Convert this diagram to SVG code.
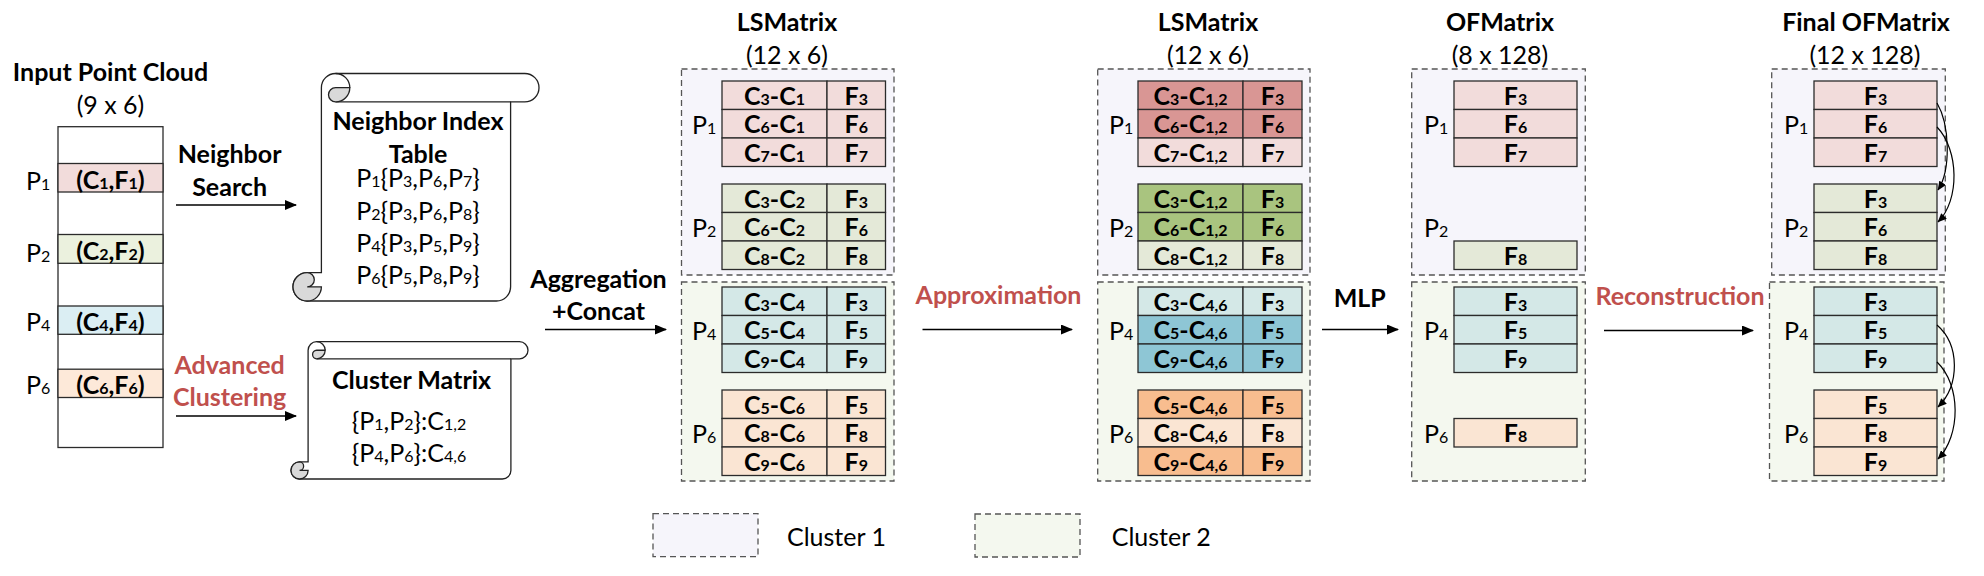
<svg xmlns="http://www.w3.org/2000/svg" width="1984" height="576" viewBox="0 0 1984 576">
<defs>
<marker id="ah" markerWidth="12" markerHeight="10" refX="11" refY="5" orient="auto" markerUnits="userSpaceOnUse"><path d="M0,0 L12,5 L0,10 Z" fill="#000"/></marker>
<marker id="ahs" markerWidth="9" markerHeight="8" refX="8.5" refY="4" orient="auto" markerUnits="userSpaceOnUse"><path d="M0,0 L9,4 L0,8 Z" fill="#000"/></marker>
</defs>
<style>
text{font-family:Lato,'Open Sans','DejaVu Sans',sans-serif;font-size:25px;fill:#000}
.b{font-weight:700}
.m{text-anchor:middle}
.s{font-size:16px}
.red{fill:#C0504D}
.cell{stroke:#2b2b2b;stroke-width:1.3}
.dash{stroke:#555;stroke-width:1.3;stroke-dasharray:6 4}
.c1{fill:#F6F5FB}
.c2{fill:#F4F8EF}
.pk{fill:#F2DCDB}
.pkd{fill:#D99694}
.sg{fill:#E4E9D8}
.gd{fill:#A9C47F}
.tl{fill:#D4E8E7}
.td{fill:#8EC6D5}
.pc{fill:#FAE5D3}
.od{fill:#F8BD8F}
.scroll{fill:#fff;stroke:#222;stroke-width:1.3}
.curl{fill:#D9D9D9;stroke:#222;stroke-width:1.3}
.ln{fill:none;stroke:#222;stroke-width:1.3}
.arr{stroke:#000;stroke-width:1.6;fill:none}
.arc{stroke:#000;stroke-width:1.2;fill:none}
</style>

<!-- Input point cloud -->
<g id="input-cloud">
<text class="b m" x="110.5" y="81">Input Point Cloud</text>
<text class="m" x="110.5" y="114">(9 x 6)</text>
<rect x="58" y="126.7" width="105" height="320.8" fill="#fff" class="cell"/>
<rect x="58" y="163.5" width="105" height="28.5" fill="#F2DCDB" class="cell"/>
<rect x="58" y="234.5" width="105" height="28.8" fill="#EBF1DE" class="cell"/>
<rect x="58" y="306" width="105" height="28.3" fill="#DBEEF3" class="cell"/>
<rect x="58" y="369.2" width="105" height="28.3" fill="#FDE9D9" class="cell"/>
<text class="b m" x="110.5" y="188.5">(C<tspan class="s">1</tspan>,F<tspan class="s">1</tspan>)</text>
<text class="b m" x="110.5" y="259.8">(C<tspan class="s">2</tspan>,F<tspan class="s">2</tspan>)</text>
<text class="b m" x="110.5" y="330.8">(C<tspan class="s">4</tspan>,F<tspan class="s">4</tspan>)</text>
<text class="b m" x="110.5" y="394">(C<tspan class="s">6</tspan>,F<tspan class="s">6</tspan>)</text>
<text x="26" y="190.3">P<tspan class="s">1</tspan></text>
<text x="26" y="261.6">P<tspan class="s">2</tspan></text>
<text x="26" y="331.4">P<tspan class="s">4</tspan></text>
<text x="26" y="393.8">P<tspan class="s">6</tspan></text>
</g>

<!-- Neighbor index table scroll -->
<g id="neighbor-table">
<path class="scroll" d="M321.4,272.6 L321.4,87.7 A14.2,14.2 0 0 1 335.6,73.5 L524.8,73.5 A14.2,14.2 0 0 1 524.8,101.9 L510.6,101.9 L510.6,286.8 A14.2,14.2 0 0 1 496.4,301 L307.2,301 A14.2,14.2 0 0 1 307.2,272.6 Z"/>
<path class="ln" d="M335.6,101.9 L510.6,101.9"/>
<path class="curl" d="M349.8,87.7 A14.2,14.2 0 0 1 335.6,101.9 A7.1,7.1 0 0 1 335.6,87.7 Z"/>
<path class="ln" d="M335.6,73.5 A14.2,14.2 0 0 1 349.8,87.7"/>
<path class="curl" d="M307.2,272.6 A7.1,7.1 0 0 1 307.2,286.8 L321.4,286.8 A14.2,14.2 0 0 1 307.2,301 A14.2,14.2 0 0 1 307.2,272.6 Z"/>
<text class="b m" x="418" y="130.4">Neighbor Index</text>
<text class="b m" x="418" y="162.7">Table</text>
<text class="m" x="418" y="187.4">P<tspan class="s">1</tspan>{P<tspan class="s">3</tspan>,P<tspan class="s">6</tspan>,P<tspan class="s">7</tspan>}</text>
<text class="m" x="418" y="219.7">P<tspan class="s">2</tspan>{P<tspan class="s">3</tspan>,P<tspan class="s">6</tspan>,P<tspan class="s">8</tspan>}</text>
<text class="m" x="418" y="251.7">P<tspan class="s">4</tspan>{P<tspan class="s">3</tspan>,P<tspan class="s">5</tspan>,P<tspan class="s">9</tspan>}</text>
<text class="m" x="418" y="283.6">P<tspan class="s">6</tspan>{P<tspan class="s">5</tspan>,P<tspan class="s">8</tspan>,P<tspan class="s">9</tspan>}</text>
</g>

<!-- Cluster matrix scroll -->
<g id="cluster-matrix">
<path class="scroll" d="M308.1,461.9 L308.1,350.25 A8.55,8.55 0 0 1 316.65,341.7 L519.45,341.7 A8.55,8.55 0 0 1 519.45,358.8 L510.9,358.8 L510.9,470.45 A8.55,8.55 0 0 1 502.35,479 L299.55,479 A8.55,8.55 0 0 1 299.55,461.9 Z"/>
<path class="ln" d="M316.65,358.8 L510.9,358.8"/>
<path class="curl" d="M325.2,350.25 A8.55,8.55 0 0 1 316.65,358.8 A4.28,4.28 0 0 1 316.65,350.25 Z"/>
<path class="ln" d="M316.65,341.7 A8.55,8.55 0 0 1 325.2,350.25"/>
<path class="curl" d="M299.55,461.9 A4.28,4.28 0 0 1 299.55,470.45 L308.1,470.45 A8.55,8.55 0 0 1 299.55,479 A8.55,8.55 0 0 1 299.55,461.9 Z"/>
<text class="b m" x="411.6" y="388.7">Cluster Matrix</text>
<text class="m" x="409" y="429.8">{P<tspan class="s">1</tspan>,P<tspan class="s">2</tspan>}:C<tspan class="s">1,2</tspan></text>
<text class="m" x="409" y="462">{P<tspan class="s">4</tspan>,P<tspan class="s">6</tspan>}:C<tspan class="s">4,6</tspan></text>
</g>

<!-- LSMatrix 1 -->
<g id="lsmatrix1">
<text class="b m" x="787" y="31">LSMatrix</text>
<text class="m" x="787" y="64">(12 x 6)</text>
<rect class="dash c1" x="681.5" y="69" width="212.5" height="206"/>
<rect class="dash c2" x="681.5" y="282" width="212.5" height="199"/>
<g class="cell">
<rect class="pk" x="722" y="81" width="105" height="28.5"/><rect class="pk" x="827" y="81" width="58.5" height="28.5"/>
<rect class="pk" x="722" y="109.5" width="105" height="28.5"/><rect class="pk" x="827" y="109.5" width="58.5" height="28.5"/>
<rect class="pk" x="722" y="138" width="105" height="28.5"/><rect class="pk" x="827" y="138" width="58.5" height="28.5"/>
<rect class="sg" x="722" y="184" width="105" height="28.5"/><rect class="sg" x="827" y="184" width="58.5" height="28.5"/>
<rect class="sg" x="722" y="212.5" width="105" height="28.5"/><rect class="sg" x="827" y="212.5" width="58.5" height="28.5"/>
<rect class="sg" x="722" y="241" width="105" height="28.5"/><rect class="sg" x="827" y="241" width="58.5" height="28.5"/>
<rect class="tl" x="722" y="287" width="105" height="28.5"/><rect class="tl" x="827" y="287" width="58.5" height="28.5"/>
<rect class="tl" x="722" y="315.5" width="105" height="28.5"/><rect class="tl" x="827" y="315.5" width="58.5" height="28.5"/>
<rect class="tl" x="722" y="344" width="105" height="28.5"/><rect class="tl" x="827" y="344" width="58.5" height="28.5"/>
<rect class="pc" x="722" y="390" width="105" height="28.5"/><rect class="pc" x="827" y="390" width="58.5" height="28.5"/>
<rect class="pc" x="722" y="418.5" width="105" height="28.5"/><rect class="pc" x="827" y="418.5" width="58.5" height="28.5"/>
<rect class="pc" x="722" y="447" width="105" height="28.5"/><rect class="pc" x="827" y="447" width="58.5" height="28.5"/>
</g>
<text x="692" y="134">P<tspan class="s">1</tspan></text>
<text x="692" y="237">P<tspan class="s">2</tspan></text>
<text x="692" y="340">P<tspan class="s">4</tspan></text>
<text x="692" y="443">P<tspan class="s">6</tspan></text>
<g class="b m">
<text x="774.5" y="104.5">C<tspan class="s">3</tspan>-C<tspan class="s">1</tspan></text><text x="856.2" y="104.5">F<tspan class="s">3</tspan></text>
<text x="774.5" y="133">C<tspan class="s">6</tspan>-C<tspan class="s">1</tspan></text><text x="856.2" y="133">F<tspan class="s">6</tspan></text>
<text x="774.5" y="161.5">C<tspan class="s">7</tspan>-C<tspan class="s">1</tspan></text><text x="856.2" y="161.5">F<tspan class="s">7</tspan></text>
<text x="774.5" y="207.5">C<tspan class="s">3</tspan>-C<tspan class="s">2</tspan></text><text x="856.2" y="207.5">F<tspan class="s">3</tspan></text>
<text x="774.5" y="236">C<tspan class="s">6</tspan>-C<tspan class="s">2</tspan></text><text x="856.2" y="236">F<tspan class="s">6</tspan></text>
<text x="774.5" y="264.5">C<tspan class="s">8</tspan>-C<tspan class="s">2</tspan></text><text x="856.2" y="264.5">F<tspan class="s">8</tspan></text>
<text x="774.5" y="310.5">C<tspan class="s">3</tspan>-C<tspan class="s">4</tspan></text><text x="856.2" y="310.5">F<tspan class="s">3</tspan></text>
<text x="774.5" y="339">C<tspan class="s">5</tspan>-C<tspan class="s">4</tspan></text><text x="856.2" y="339">F<tspan class="s">5</tspan></text>
<text x="774.5" y="367.5">C<tspan class="s">9</tspan>-C<tspan class="s">4</tspan></text><text x="856.2" y="367.5">F<tspan class="s">9</tspan></text>
<text x="774.5" y="413.5">C<tspan class="s">5</tspan>-C<tspan class="s">6</tspan></text><text x="856.2" y="413.5">F<tspan class="s">5</tspan></text>
<text x="774.5" y="442">C<tspan class="s">8</tspan>-C<tspan class="s">6</tspan></text><text x="856.2" y="442">F<tspan class="s">8</tspan></text>
<text x="774.5" y="470.5">C<tspan class="s">9</tspan>-C<tspan class="s">6</tspan></text><text x="856.2" y="470.5">F<tspan class="s">9</tspan></text>
</g>
</g>

<!-- LSMatrix 2 -->
<g id="lsmatrix2">
<text class="b m" x="1208" y="31">LSMatrix</text>
<text class="m" x="1208" y="64">(12 x 6)</text>
<rect class="dash c1" x="1097.7" y="69" width="212.3" height="206"/>
<rect class="dash c2" x="1097.7" y="282" width="212.3" height="199"/>
<g class="cell">
<rect class="pkd" x="1138" y="81" width="105" height="28.5"/><rect class="pkd" x="1243" y="81" width="59" height="28.5"/>
<rect class="pkd" x="1138" y="109.5" width="105" height="28.5"/><rect class="pkd" x="1243" y="109.5" width="59" height="28.5"/>
<rect class="pk" x="1138" y="138" width="105" height="28.5"/><rect class="pk" x="1243" y="138" width="59" height="28.5"/>
<rect class="gd" x="1138" y="184" width="105" height="28.5"/><rect class="gd" x="1243" y="184" width="59" height="28.5"/>
<rect class="gd" x="1138" y="212.5" width="105" height="28.5"/><rect class="gd" x="1243" y="212.5" width="59" height="28.5"/>
<rect class="sg" x="1138" y="241" width="105" height="28.5"/><rect class="sg" x="1243" y="241" width="59" height="28.5"/>
<rect class="tl" x="1138" y="287" width="105" height="28.5"/><rect class="tl" x="1243" y="287" width="59" height="28.5"/>
<rect class="td" x="1138" y="315.5" width="105" height="28.5"/><rect class="td" x="1243" y="315.5" width="59" height="28.5"/>
<rect class="td" x="1138" y="344" width="105" height="28.5"/><rect class="td" x="1243" y="344" width="59" height="28.5"/>
<rect class="od" x="1138" y="390" width="105" height="28.5"/><rect class="od" x="1243" y="390" width="59" height="28.5"/>
<rect class="pc" x="1138" y="418.5" width="105" height="28.5"/><rect class="pc" x="1243" y="418.5" width="59" height="28.5"/>
<rect class="od" x="1138" y="447" width="105" height="28.5"/><rect class="od" x="1243" y="447" width="59" height="28.5"/>
</g>
<text x="1109" y="134">P<tspan class="s">1</tspan></text>
<text x="1109" y="237">P<tspan class="s">2</tspan></text>
<text x="1109" y="340">P<tspan class="s">4</tspan></text>
<text x="1109" y="443">P<tspan class="s">6</tspan></text>
<g class="b m">
<text x="1190.5" y="104.5">C<tspan class="s">3</tspan>-C<tspan class="s">1,2</tspan></text><text x="1272.5" y="104.5">F<tspan class="s">3</tspan></text>
<text x="1190.5" y="133">C<tspan class="s">6</tspan>-C<tspan class="s">1,2</tspan></text><text x="1272.5" y="133">F<tspan class="s">6</tspan></text>
<text x="1190.5" y="161.5">C<tspan class="s">7</tspan>-C<tspan class="s">1,2</tspan></text><text x="1272.5" y="161.5">F<tspan class="s">7</tspan></text>
<text x="1190.5" y="207.5">C<tspan class="s">3</tspan>-C<tspan class="s">1,2</tspan></text><text x="1272.5" y="207.5">F<tspan class="s">3</tspan></text>
<text x="1190.5" y="236">C<tspan class="s">6</tspan>-C<tspan class="s">1,2</tspan></text><text x="1272.5" y="236">F<tspan class="s">6</tspan></text>
<text x="1190.5" y="264.5">C<tspan class="s">8</tspan>-C<tspan class="s">1,2</tspan></text><text x="1272.5" y="264.5">F<tspan class="s">8</tspan></text>
<text x="1190.5" y="310.5">C<tspan class="s">3</tspan>-C<tspan class="s">4,6</tspan></text><text x="1272.5" y="310.5">F<tspan class="s">3</tspan></text>
<text x="1190.5" y="339">C<tspan class="s">5</tspan>-C<tspan class="s">4,6</tspan></text><text x="1272.5" y="339">F<tspan class="s">5</tspan></text>
<text x="1190.5" y="367.5">C<tspan class="s">9</tspan>-C<tspan class="s">4,6</tspan></text><text x="1272.5" y="367.5">F<tspan class="s">9</tspan></text>
<text x="1190.5" y="413.5">C<tspan class="s">5</tspan>-C<tspan class="s">4,6</tspan></text><text x="1272.5" y="413.5">F<tspan class="s">5</tspan></text>
<text x="1190.5" y="442">C<tspan class="s">8</tspan>-C<tspan class="s">4,6</tspan></text><text x="1272.5" y="442">F<tspan class="s">8</tspan></text>
<text x="1190.5" y="470.5">C<tspan class="s">9</tspan>-C<tspan class="s">4,6</tspan></text><text x="1272.5" y="470.5">F<tspan class="s">9</tspan></text>
</g>
</g>

<!-- OFMatrix -->
<g id="ofmatrix">
<text class="b m" x="1500" y="31">OFMatrix</text>
<text class="m" x="1500" y="64">(8 x 128)</text>
<rect class="dash c1" x="1411.7" y="69" width="173.6" height="206"/>
<rect class="dash c2" x="1411.7" y="282" width="173.6" height="199"/>
<g class="cell">
<rect class="pk" x="1454" y="81" width="123" height="28.5"/>
<rect class="pk" x="1454" y="109.5" width="123" height="28.5"/>
<rect class="pk" x="1454" y="138" width="123" height="28.5"/>
<rect class="sg" x="1454" y="241" width="123" height="28.5"/>
<rect class="tl" x="1454" y="287" width="123" height="28.5"/>
<rect class="tl" x="1454" y="315.5" width="123" height="28.5"/>
<rect class="tl" x="1454" y="344" width="123" height="28.5"/>
<rect class="pc" x="1454" y="418.5" width="123" height="28.5"/>
</g>
<text x="1424" y="134">P<tspan class="s">1</tspan></text>
<text x="1424" y="237">P<tspan class="s">2</tspan></text>
<text x="1424" y="340">P<tspan class="s">4</tspan></text>
<text x="1424" y="443">P<tspan class="s">6</tspan></text>
<g class="b m">
<text x="1515.5" y="104.5">F<tspan class="s">3</tspan></text>
<text x="1515.5" y="133">F<tspan class="s">6</tspan></text>
<text x="1515.5" y="161.5">F<tspan class="s">7</tspan></text>
<text x="1515.5" y="264.5">F<tspan class="s">8</tspan></text>
<text x="1515.5" y="310.5">F<tspan class="s">3</tspan></text>
<text x="1515.5" y="339">F<tspan class="s">5</tspan></text>
<text x="1515.5" y="367.5">F<tspan class="s">9</tspan></text>
<text x="1515.5" y="442">F<tspan class="s">8</tspan></text>
</g>
</g>

<!-- Final OFMatrix -->
<g id="final-ofmatrix">
<text class="b m" x="1866" y="31">Final OFMatrix</text>
<text class="m" x="1865" y="64">(12 x 128)</text>
<rect class="dash c1" x="1771.7" y="69" width="173.6" height="206"/>
<rect class="dash c2" x="1769.5" y="282" width="174.5" height="199"/>
<g class="cell">
<rect class="pk" x="1814" y="81" width="123" height="28.5"/>
<rect class="pk" x="1814" y="109.5" width="123" height="28.5"/>
<rect class="pk" x="1814" y="138" width="123" height="28.5"/>
<rect class="sg" x="1814" y="184" width="123" height="28.5"/>
<rect class="sg" x="1814" y="212.5" width="123" height="28.5"/>
<rect class="sg" x="1814" y="241" width="123" height="28.5"/>
<rect class="tl" x="1814" y="287" width="123" height="28.5"/>
<rect class="tl" x="1814" y="315.5" width="123" height="28.5"/>
<rect class="tl" x="1814" y="344" width="123" height="28.5"/>
<rect class="pc" x="1814" y="390" width="123" height="28.5"/>
<rect class="pc" x="1814" y="418.5" width="123" height="28.5"/>
<rect class="pc" x="1814" y="447" width="123" height="28.5"/>
</g>
<text x="1784" y="134">P<tspan class="s">1</tspan></text>
<text x="1784" y="237">P<tspan class="s">2</tspan></text>
<text x="1784" y="340">P<tspan class="s">4</tspan></text>
<text x="1784" y="443">P<tspan class="s">6</tspan></text>
<g class="b m">
<text x="1875.5" y="104.5">F<tspan class="s">3</tspan></text>
<text x="1875.5" y="133">F<tspan class="s">6</tspan></text>
<text x="1875.5" y="161.5">F<tspan class="s">7</tspan></text>
<text x="1875.5" y="207.5">F<tspan class="s">3</tspan></text>
<text x="1875.5" y="236">F<tspan class="s">6</tspan></text>
<text x="1875.5" y="264.5">F<tspan class="s">8</tspan></text>
<text x="1875.5" y="310.5">F<tspan class="s">3</tspan></text>
<text x="1875.5" y="339">F<tspan class="s">5</tspan></text>
<text x="1875.5" y="367.5">F<tspan class="s">9</tspan></text>
<text x="1875.5" y="413.5">F<tspan class="s">5</tspan></text>
<text x="1875.5" y="442">F<tspan class="s">8</tspan></text>
<text x="1875.5" y="470.5">F<tspan class="s">9</tspan></text>
</g>
</g>

<!-- Connector labels -->
<g id="labels">
<text class="b m" x="229.6" y="162.7">Neighbor</text>
<text class="b m" x="229.6" y="195.8">Search</text>
<text class="b m red" x="229.6" y="374">Advanced</text>
<text class="b m red" x="229.6" y="406">Clustering</text>
<text class="b m" x="598.5" y="287.6">Aggregation</text>
<text class="b m" x="598.5" y="319.6">+Concat</text>
<text class="b m red" x="998.5" y="304">Approximation</text>
<text class="b m" x="1359.7" y="306.7">MLP</text>
<text class="b m red" x="1680" y="305">Reconstruction</text>
</g>

<!-- Connectors -->
<g id="connectors">
<path class="arr" d="M176,205 L296,205" marker-end="url(#ah)"/>
<path class="arr" d="M176,416 L296,416" marker-end="url(#ah)"/>
<path class="arr" d="M545,329.5 L666,329.5" marker-end="url(#ah)"/>
<path class="arr" d="M922.5,329.5 L1072,329.5" marker-end="url(#ah)"/>
<path class="arr" d="M1322,329.5 L1398,329.5" marker-end="url(#ah)"/>
<path class="arr" d="M1604,330.5 L1753,330.5" marker-end="url(#ah)"/>
<path class="arc" d="M1937,103 C1950,125 1951,170 1938,190" marker-end="url(#ahs)"/>
<path class="arc" d="M1937,127 C1959,150 1960,200 1938,222" marker-end="url(#ahs)"/>
<path class="arc" d="M1937,325 C1960,345 1960,385 1938,407" marker-end="url(#ahs)"/>
<path class="arc" d="M1937,362 C1961,385 1961,435 1938,459" marker-end="url(#ahs)"/>
</g>

<!-- Legend -->
<g id="legend">
<rect class="dash c1" x="653" y="513.6" width="105" height="43"/>
<text x="787" y="545.5">Cluster 1</text>
<rect class="dash c2" x="975" y="514" width="105" height="43"/>
<text x="1111.7" y="545.5">Cluster 2</text>
</g>
</svg>
